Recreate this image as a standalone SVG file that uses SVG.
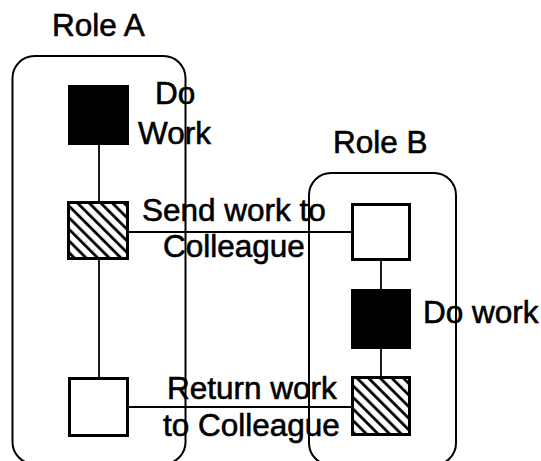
<svg xmlns="http://www.w3.org/2000/svg" width="541" height="461" viewBox="0 0 541 461">
  <defs>
    <pattern id="hatch" patternUnits="userSpaceOnUse" width="8.2" height="8.2" patternTransform="rotate(-45)">
      <rect width="8.2" height="8.2" fill="#fff"/>
      <line x1="1.5" y1="0" x2="1.5" y2="8.2" stroke="#000" stroke-width="2.8"/>
    </pattern>
  </defs>
  <style>
    .lane { fill: none; stroke: #000; stroke-width: 2; }
    .task { stroke: #000; stroke-width: 3; }
    .done { fill: #000; }
    .open { fill: #fff; }
    .handoff { fill: url(#hatch); }
    .link { stroke: #000; stroke-width: 1.8; fill: none; }
    text { font-family: "Liberation Sans", Arial, sans-serif; font-size: 31.5px; fill: #000; stroke: #000; stroke-width: 0.6; }
  </style>
  <rect width="541" height="461" fill="#fff"/>

  <!-- swimlanes -->
  <g id="role-a">
    <rect class="lane" x="12.5" y="56" width="173" height="408" rx="22"/>
    <text x="52" y="36">Role A</text>
  </g>
  <g id="role-b">
    <rect class="lane" x="309" y="173" width="147" height="292" rx="22"/>
    <text x="333" y="153">Role B</text>
  </g>

  <!-- connectors -->
  <g id="connectors">
    <line class="link" x1="99" y1="145" x2="99" y2="202"/>
    <line class="link" x1="99" y1="260" x2="99" y2="378"/>
    <line class="link" x1="129" y1="232" x2="351" y2="232"/>
    <line class="link" x1="129" y1="407" x2="351" y2="407"/>
    <line class="link" x1="381" y1="261" x2="381" y2="289"/>
    <line class="link" x1="381" y1="349" x2="381" y2="377"/>
  </g>

  <!-- tasks -->
  <g id="a-do-work">
    <rect class="done" x="68" y="85" width="61" height="60"/>
    <text x="155" y="104">Do</text>
    <text x="138" y="144">Work</text>
  </g>
  <g id="a-send">
    <rect class="task handoff" x="68.5" y="202.5" width="59" height="56"/>
    <text x="142" y="221">Send work to</text>
    <text x="163" y="257">Colleague</text>
  </g>
  <g id="a-receive">
    <rect class="task open" x="69.5" y="378.5" width="58" height="57"/>
  </g>
  <g id="b-receive">
    <rect class="task open" x="352.5" y="204.5" width="57" height="55"/>
  </g>
  <g id="b-do-work">
    <rect class="done" x="351" y="289" width="60" height="60"/>
    <text x="423" y="323">Do work</text>
  </g>
  <g id="b-return">
    <rect class="task handoff" x="352.5" y="377.5" width="57" height="57"/>
    <text x="167" y="399">Return work</text>
    <text x="163" y="436">to Colleague</text>
  </g>
</svg>
